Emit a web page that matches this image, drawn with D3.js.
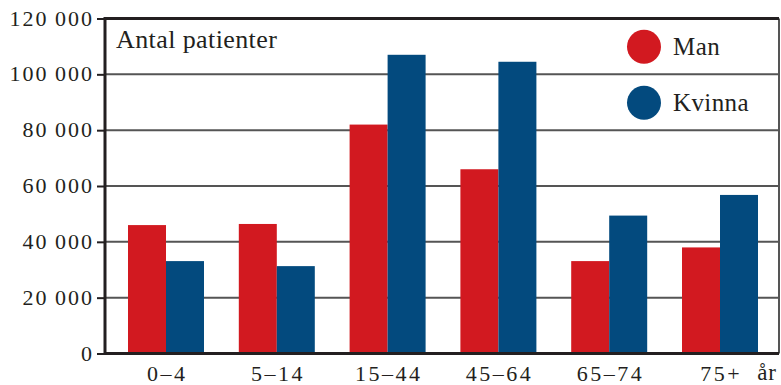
<!DOCTYPE html>
<html>
<head>
<meta charset="utf-8">
<script src="https://cdn.jsdelivr.net/npm/d3@7"></script>
<style>
  html, body { margin: 0; padding: 0; background: #fff; }
  svg { display: block; }
  text { font-family: "Liberation Serif", "DejaVu Serif", serif; fill: #231f20; }
</style>
</head>
<body>
<svg id="chart" width="781" height="385"></svg>
<script>
// Patients per age group, by sex
const ageGroups = ["0–4", "5–14", "15–44", "45–64", "65–74", "75+"];
const seriesNames = ["Man", "Kvinna"];
const manValues = [46000, 46400, 82000, 66000, 33100, 38000];
const kvinnaValues = [33100, 31300, 107000, 104500, 49400, 56800];
const yTicks = [0, 20000, 40000, 60000, 80000, 100000, 120000];
const colors = { Man: "#d21920", Kvinna: "#034a7e" };

const svg = d3.select("#chart");
const frame = { left: 105, right: 779, top: 18.5, bottom: 353.5 };

const y = d3.scaleLinear().domain([0, 120000]).range([frame.bottom, frame.top]);
const x0 = d3.scaleBand().domain(ageGroups).range([110.6, 775.4]).padding(0);
const x1 = d3.scaleBand().domain(seriesNames).range([0, x0.bandwidth()])
  .paddingInner(0).paddingOuter(0.458);

const fmt = v => d3.format(",")(v).replace(/,/g, "\u2009");

// gridlines
svg.append("g").selectAll("line")
  .data(yTicks.filter(t => t > 0 && t < 120000))
  .join("line")
  .attr("x1", frame.left).attr("x2", frame.right)
  .attr("y1", d => y(d)).attr("y2", d => y(d))
  .attr("stroke", "#555").attr("stroke-width", 2);

// bars
const rows = ageGroups.map((g, i) => ({ group: g, Man: manValues[i], Kvinna: kvinnaValues[i] }));
svg.append("g").selectAll("g")
  .data(rows)
  .join("g")
  .attr("transform", d => `translate(${x0(d.group)},0)`)
  .selectAll("rect")
  .data(d => seriesNames.map(s => ({ s, v: d[s] })))
  .join("rect")
  .attr("x", d => x1(d.s))
  .attr("width", x1.bandwidth())
  .attr("y", d => y(d.v))
  .attr("height", d => y(0) - y(d.v))
  .attr("fill", d => colors[d.s]);

// frame
svg.append("line").attr("x1", frame.right).attr("x2", frame.right)
  .attr("y1", frame.top).attr("y2", frame.bottom)
  .attr("stroke", "#555").attr("stroke-width", 2);
svg.append("path")
  .attr("d", `M${frame.right},${frame.top}H${frame.left}V${frame.bottom}H${frame.right}`)
  .attr("fill", "none").attr("stroke", "#231f20").attr("stroke-width", 3);

// y axis
const yAxis = d3.axisLeft(y).tickValues(yTicks).tickSize(8).tickPadding(3)
  .tickFormat(fmt);
svg.append("g")
  .attr("transform", `translate(${frame.left},0)`)
  .call(yAxis)
  .call(g => g.select(".domain").remove())
  .call(g => g.selectAll(".tick line").attr("stroke", "#231f20").attr("stroke-width", 2))
  .call(g => g.selectAll(".tick text")
    .attr("font-family", "Liberation Serif")
    .attr("font-size", 22).attr("letter-spacing", 2)
    .attr("fill", "#231f20").attr("dy", "0.3em"));

// x axis labels
const xAxis = d3.axisBottom(x0).tickSize(0).tickPadding(12);
svg.append("g")
  .attr("transform", `translate(0,${frame.bottom})`)
  .call(xAxis)
  .call(g => g.select(".domain").remove())
  .call(g => g.selectAll(".tick text")
    .attr("font-family", "Liberation Serif")
    .attr("font-size", 22).attr("letter-spacing", 2.5)
    .attr("dx", 1.2)
    .attr("fill", "#231f20"));

svg.append("text").attr("x", 777).attr("y", 380).attr("text-anchor", "end")
  .attr("font-size", 23).attr("letter-spacing", 1).text("år");

// axis title inside the plot
svg.append("text").attr("x", 116).attr("y", 48).attr("font-size", 26)
  .attr("letter-spacing", 0.4).text("Antal patienter");

// legend
const legend = svg.append("g").selectAll("g")
  .data(seriesNames)
  .join("g")
  .attr("transform", (d, i) => `translate(644,${46.7 + i * 56})`);
legend.append("circle").attr("r", 17).attr("fill", d => colors[d]);
legend.append("text").attr("x", 29).attr("y", 8).attr("font-size", 25)
  .attr("letter-spacing", 0.4).text(d => d);
</script>
</body>
</html>
